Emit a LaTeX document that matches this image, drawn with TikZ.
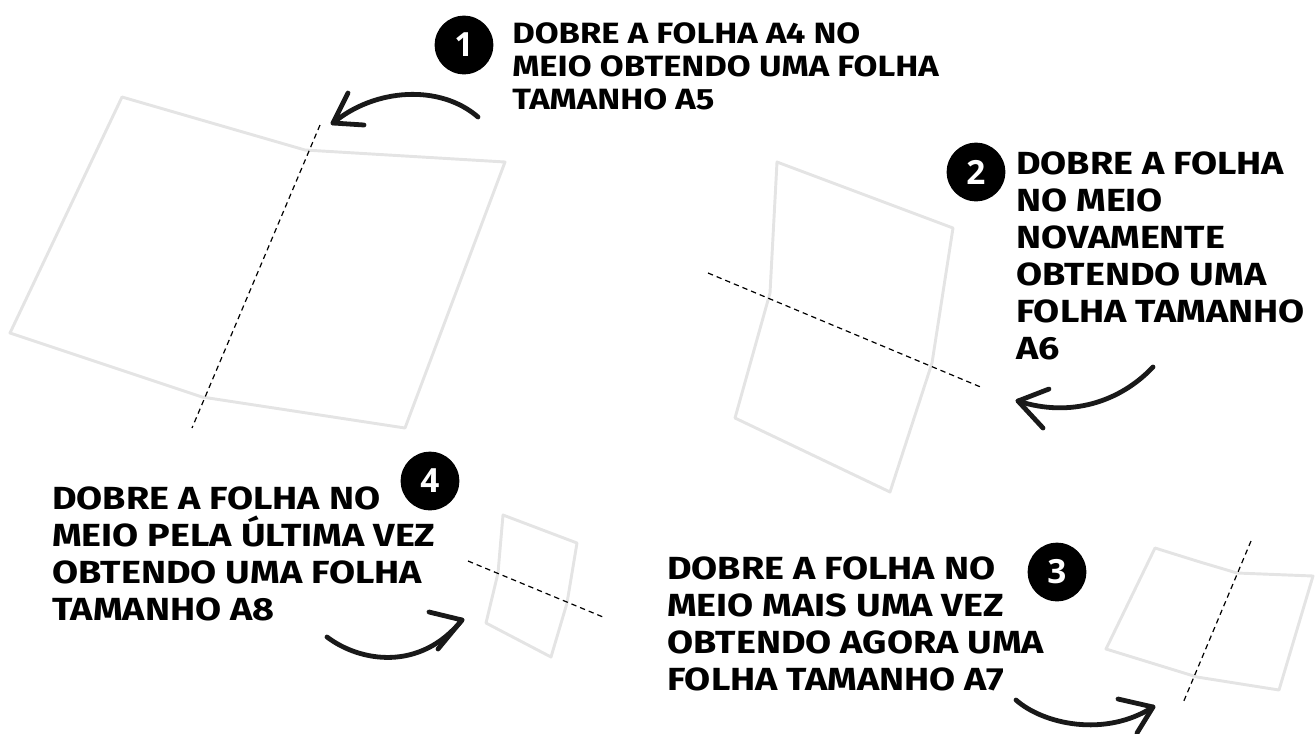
\documentclass[tikz,border=0pt]{standalone}
\usepackage{fontspec}
\newfontfamily\comic{Fira Sans}[FakeStretch=1.18]
\newfontfamily\badgefont{Open Sans}
\definecolor{sheet}{RGB}{228,228,228}
\begin{document}
\begin{tikzpicture}[x=0.75pt,y=-0.75pt,
  sheetline/.style={draw=sheet,line width=2.2pt,line join=round},
  foldline/.style={draw=black,line width=0.9pt,dash pattern=on 4pt off 3pt},
  arrowline/.style={draw=black!90,line width=3.6pt,line cap=round,line join=round},
  badge/.style={circle,fill=black,text=white,minimum size=44pt,inner sep=0pt,font=\badgefont\bfseries\fontsize{25}{25}\selectfont},
  steptext/.style={anchor=north west,inner sep=0pt,align=left,font=\comic\bfseries\fontsize{24}{27.75}\selectfont},
  steptexta/.style={anchor=north west,inner sep=0pt,align=left,font=\comic\bfseries\fontsize{22}{24.75}\selectfont}]
\useasboundingbox (0,0) rectangle (1315,733);
% sheet 1 (A4)
\draw[sheetline] (122,97) -- (305,150) -- (505,162) -- (405,428) -- (202,397) -- (10,333) -- cycle;
\coordinate (f1a) at (320,125); \coordinate (f1b) at (192,428);
\draw[foldline] (f1a) -- (f1b);
% sheet 2 (A5)
\draw[sheetline] (777,162) -- (953,228) -- (932,363) -- (890,492) -- (735,418) -- (770,293) -- cycle;
\coordinate (f2a) at (708,273); \coordinate (f2b) at (983,388);
\draw[foldline] (f2a) -- (f2b);
% sheet 3 (A6)
\draw[sheetline] (1155,548) -- (1200,562) -- (1237,573) -- (1313,576) -- (1279,690) -- (1197,677) -- (1106,649) -- cycle;
\coordinate (f3a) at (1251,541); \coordinate (f3b) at (1183,703);
\draw[foldline] (f3a) -- (f3b);
% sheet 4 (A7)
\draw[sheetline] (503,515) -- (577,543) -- (567,603) -- (551,657) -- (486,623) -- (498,573) -- cycle;
\coordinate (f4a) at (468,561); \coordinate (f4b) at (603,617);
\draw[foldline] (f4a) -- (f4b);
% badges
\node[badge] (b1) at (464,45) {1};
\node[badge] (b2) at (976,172) {2};
\node[badge] (b3) at (1057,572) {3};
\node[badge] (b4) at (430,481) {4};
% texts
\node[steptexta] (t1) at (512,22) {DOBRE A FOLHA A4 NO\\MEIO OBTENDO UMA FOLHA\\TAMANHO A5};
\node[steptext] (t2) at (1016,152) {DOBRE A FOLHA\\NO MEIO\\NOVAMENTE\\OBTENDO UMA\\FOLHA TAMANHO\\A6};
\node[steptext] (t3) at (667,557) {DOBRE A FOLHA NO\\MEIO MAIS UMA VEZ\\OBTENDO AGORA UMA\\FOLHA TAMANHO A7};
\node[steptext] (t4) at (52,487) {DOBRE A FOLHA NO\\MEIO PELA ÚLTIMA VEZ\\OBTENDO UMA FOLHA\\TAMANHO A8};
% arrows
\coordinate (a1s) at (478,117); \coordinate (a1t) at (333,123);
\coordinate (a1u) at (348,93); \coordinate (a1l) at (364,125);
\draw[arrowline] (a1s) .. controls (440,84) and (375,88) .. (a1t);
\draw[arrowline] (a1u) -- (a1t) -- (a1l);
\coordinate (a2s) at (1153,367); \coordinate (a2t) at (1018,401);
\coordinate (a2u) at (1049,389); \coordinate (a2l) at (1043,428);
\draw[arrowline] (a2s) .. controls (1120,402) and (1070,418) .. (a2t);
\draw[arrowline] (a2u) -- (a2t) -- (a2l);
\coordinate (a3s) at (1016,700); \coordinate (a3t) at (1153,707);
\coordinate (a3u) at (1118,699); \coordinate (a3l) at (1137,733);
\draw[arrowline] (a3s) .. controls (1043,724) and (1105,738) .. (a3t);
\draw[arrowline] (a3u) -- (a3t) -- (a3l);
\coordinate (a4s) at (327,637); \coordinate (a4t) at (462,620);
\coordinate (a4u) at (429,612); \coordinate (a4l) at (438,649);
\draw[arrowline] (a4s) .. controls (360,662) and (420,672) .. (a4t);
\draw[arrowline] (a4u) -- (a4t) -- (a4l);
\end{tikzpicture}
\end{document}
